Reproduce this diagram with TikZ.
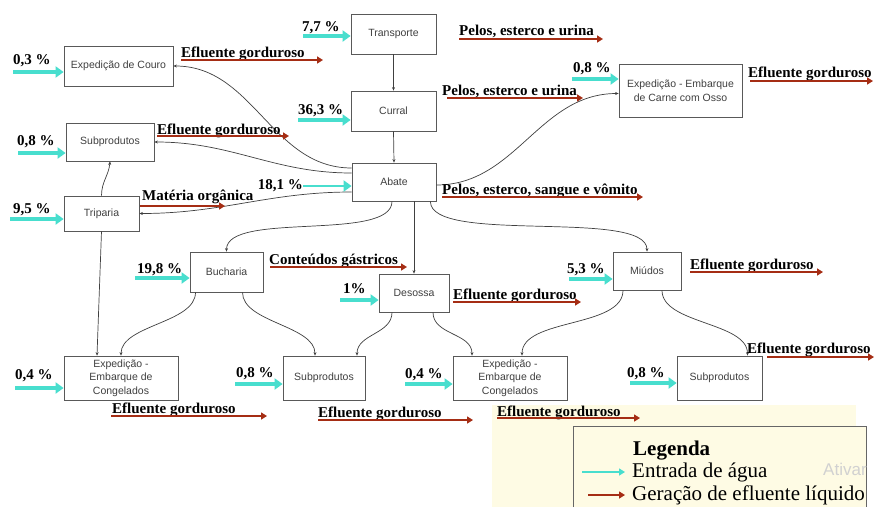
\documentclass[tikz,border=0pt]{standalone}
\usepackage{fontspec}
\setmainfont{Liberation Serif}
\setsansfont{Liberation Sans}
\usetikzlibrary{arrows.meta, positioning, calc}
\definecolor{aqua}{RGB}{72,222,206}
\definecolor{rust}{RGB}{165,45,20}
\definecolor{cream}{RGB}{254,251,228}
\tikzstyle{stage} = [rectangle, draw=black!65, line width=0.8pt, fill=white, text=black!75, font=\sffamily\fontsize{10.5}{13.5}\selectfont, align=center, inner sep=1pt]
\tikzstyle{water} = [line width=3.5pt, draw=aqua, -{Triangle[length=8pt,width=11pt]}]
\tikzstyle{effluent} = [line width=2pt, draw=rust, -{Triangle[length=6pt,width=7pt]}]
\tikzstyle{link} = [line width=0.7pt, draw=black!75, -{Stealth[length=3.5pt,width=3pt]}]
\begin{document}
\begin{tikzpicture}[x=1pt, y=-1pt,
        pct/.style={font=\bfseries\fontsize{15}{15}\selectfont, inner sep=0pt, anchor=base west},
        efl/.style={font=\bfseries\fontsize{15}{15}\selectfont, inner sep=0pt, anchor=base west},
        keytext/.style={font=\fontsize{21}{21}\selectfont, inner sep=0pt, anchor=base west}]

    \fill[white] (0,0) rectangle (874,507);
    \useasboundingbox (0,0) rectangle (874,507);
    \fill[cream] (492,405) rectangle (856,507);
    \fill[cream] (573,426) rectangle (866,507);
    \draw[black!60, line width=0.8pt] (573,507) |- (866,426) -- (866,507);

    \node[stage, minimum width=109pt, minimum height=40pt] (couro) at (118.5,66) {Expedição de Couro};
    \node[stage, minimum width=85pt, minimum height=40pt] (transporte) at (393.5,34) {Transporte};
    \node[stage, minimum width=85pt, minimum height=40pt] (curral) at (393.5,111) {Curral};
    \node[stage, minimum width=88pt, minimum height=38pt] (subL) at (110,142) {Subprodutos};
    \node[stage, minimum width=84pt, minimum height=38pt] (abate) at (394,182) {Abate};
    \node[stage, minimum width=75pt, minimum height=35pt] (triparia) at (101.5,213.5) {Triparia};
    \node[stage, minimum width=123pt, minimum height=53pt] (osso) at (680.5,90.5) {Expedição - Embarque\\de Carne com Osso};
    \node[stage, minimum width=73pt, minimum height=40pt] (bucharia) at (226.5,272) {Bucharia};
    \node[stage, minimum width=70pt, minimum height=38pt] (desossa) at (414,293) {Desossa};
    \node[stage, minimum width=68pt, minimum height=38pt] (miudos) at (647,271) {Miúdos};
    \node[stage, minimum width=114pt, minimum height=44pt] (congL) at (121,378) {Expedição -\\Embarque de\\Congelados};
    \node[stage, minimum width=82pt, minimum height=44pt] (subM) at (324,378) {Subprodutos};
    \node[stage, minimum width=114pt, minimum height=44pt] (congR) at (510,378) {Expedição -\\Embarque de\\Congelados};
    \node[stage, minimum width=85pt, minimum height=44pt] (subR) at (719.5,378) {Subprodutos};

    \draw[link] (transporte.south) -- (curral.north);
    \draw[link] (curral.south) -- (abate.north);
    \draw[link] ([yshift=14pt]abate.west) to[out=180, in=0] (couro.east);
    \draw[link] ([yshift=9pt]abate.west) to[out=180, in=0] (subL.east);
    \draw[link] ([yshift=-10pt]abate.west) to[out=180, in=0] (triparia.east);
    \draw[link] (triparia.north) to[out=90, in=-95] (subL.south);
    \draw[link] (triparia.south) -- ([xshift=-24pt]congL.north);
    \draw[link] ([yshift=-3pt]abate.east) to[out=0, in=180] ([yshift=-3pt]osso.west);
    \draw[link] ([xshift=-2pt]abate.south) to[out=-90, in=90, looseness=0.6] (bucharia.north);
    \draw[link] (desossa.north |- abate.south) -- (desossa.north);
    \draw[link] ([xshift=-6pt]abate.south east) to[out=-90, in=90, looseness=0.5] (miudos.north);
    \draw[link] ([xshift=-31pt]bucharia.south) to[out=-90, in=90, looseness=0.8] (congL.north);
    \draw[link] ([xshift=16pt]bucharia.south) to[out=-90, in=90, looseness=0.8] ([xshift=-9pt]subM.north);
    \draw[link] ([xshift=-22pt]desossa.south) to[out=-90, in=90] ([xshift=33pt]subM.north);
    \draw[link] ([xshift=19pt]desossa.south) to[out=-90, in=90] ([xshift=-38pt]congR.north);
    \draw[link] ([xshift=-24pt]miudos.south) to[out=-90, in=90, looseness=0.8] ([xshift=12pt]congR.north);
    \draw[link] ([xshift=15pt]miudos.south) to[out=-90, in=90, looseness=0.8] ([xshift=28pt]subR.north);

    \coordinate (inCouro) at (13,72);
    \coordinate (inSubL) at (18,153);
    \coordinate (inTriparia) at (10,219);
    \coordinate (inTransporte) at (303,36);
    \coordinate (inCurral) at (298,120);
    \coordinate (inAbate) at (303,186);
    \coordinate (inOsso) at (572,79);
    \coordinate (inBucharia) at (135,278);
    \coordinate (inDesossa) at (340,300);
    \coordinate (inMiudos) at (569,279);
    \coordinate (inCongL) at (15,388);
    \coordinate (inSubM) at (235,384);
    \coordinate (inCongR) at (405,384);
    \coordinate (inSubR) at (630,383);

    \node[pct] (pCouro) at (13,64) {0,3 \%};
    \node[pct] (pSubL) at (17,145) {0,8 \%};
    \node[pct] (pTriparia) at (13,213) {9,5 \%};
    \node[pct] (pTransporte) at (302,31) {7,7 \%};
    \node[pct] (pCurral) at (298,114) {36,3 \%};
    \node[pct, anchor=base east] (pAbate) at (303,189) {18,1 \%};
    \node[pct] (pOsso) at (573,72) {0,8 \%};
    \node[pct] (pBucharia) at (137,273) {19,8 \%};
    \node[pct] (pDesossa) at (343,293) {1\%};
    \node[pct] (pMiudos) at (567,273) {5,3 \%};
    \node[pct] (pCongL) at (15,379) {0,4 \%};
    \node[pct] (pSubM) at (236,377) {0,8 \%};
    \node[pct] (pCongR) at (405,378) {0,4 \%};
    \node[pct] (pSubR) at (627,377) {0,8 \%};

    \draw[water] (inCouro) -- (inCouro -| couro.west);
    \draw[water] (inSubL) -- (inSubL -| subL.west);
    \draw[water] (inTriparia) -- (inTriparia -| triparia.west);
    \draw[water] (inTransporte) -- (inTransporte -| transporte.west);
    \draw[water] (inCurral) -- (inCurral -| curral.west);
    \draw[water, line width=2.5pt] (inAbate) -- (inAbate -| abate.west);
    \draw[water] (inOsso) -- (inOsso -| osso.west);
    \draw[water] (inBucharia) -- (inBucharia -| bucharia.west);
    \draw[water] (inDesossa) -- (inDesossa -| desossa.west);
    \draw[water] (inMiudos) -- (inMiudos -| miudos.west);
    \draw[water] (inCongL) -- (inCongL -| congL.west);
    \draw[water] (inSubM) -- (inSubM -| subM.west);
    \draw[water] (inCongR) -- (inCongR -| congR.west);
    \draw[water] (inSubR) -- (inSubR -| subR.west);

    \coordinate (oCouro) at (181,60);       \coordinate (oCouroEnd) at (323,60);
    \coordinate (oSubL) at (157,136);       \coordinate (oSubLEnd) at (289,136);
    \coordinate (oTriparia) at (140,206);   \coordinate (oTripariaEnd) at (225,206);
    \coordinate (oTransporte) at (459,39);  \coordinate (oTransporteEnd) at (603,39);
    \coordinate (oCurral) at (447,98);      \coordinate (oCurralEnd) at (583,98);
    \coordinate (oOsso) at (750,81);        \coordinate (oOssoEnd) at (873,81);
    \coordinate (oAbate) at (442,197);      \coordinate (oAbateEnd) at (643,197);
    \coordinate (oBucharia) at (270,267);   \coordinate (oBuchariaEnd) at (407,267);
    \coordinate (oDesossa) at (453,302);    \coordinate (oDesossaEnd) at (581,302);
    \coordinate (oMiudos) at (690,272);     \coordinate (oMiudosEnd) at (823,272);
    \coordinate (oSubR) at (767,357);       \coordinate (oSubREnd) at (874,357);
    \coordinate (oCongL) at (111,416);      \coordinate (oCongLEnd) at (267,416);
    \coordinate (oSubM) at (318,420);       \coordinate (oSubMEnd) at (473,420);
    \coordinate (oCongR) at (497,418);      \coordinate (oCongREnd) at (640,418);

    \node[efl] (eCouro) at (181,57) {Efluente gorduroso};
    \node[efl] (eSubL) at (157,134) {Efluente gorduroso};
    \node[efl] (eTriparia) at (142,200) {Matéria orgânica};
    \node[efl] (eTransporte) at (459,35) {Pelos, esterco e urina};
    \node[efl] (eCurral) at (442,95) {Pelos, esterco e urina};
    \node[efl] (eOsso) at (748,77) {Efluente gorduroso};
    \node[efl] (eAbate) at (442,194) {Pelos, esterco, sangue e vômito};
    \node[efl] (eBucharia) at (269,264) {Conteúdos gástricos};
    \node[efl] (eDesossa) at (453,299) {Efluente gorduroso};
    \node[efl] (eMiudos) at (690,269) {Efluente gorduroso};
    \node[efl] (eSubR) at (747,353) {Efluente gorduroso};
    \node[efl] (eCongL) at (112,413) {Efluente gorduroso};
    \node[efl] (eSubM) at (318,417) {Efluente gorduroso};
    \node[efl] (eCongR) at (497,416) {Efluente gorduroso};

    \draw[effluent] (oCouro) -- (oCouroEnd);
    \draw[effluent] (oSubL) -- (oSubLEnd);
    \draw[effluent] (oTriparia) -- (oTripariaEnd);
    \draw[effluent] (oTransporte) -- (oTransporteEnd);
    \draw[effluent] (oCurral) -- (oCurralEnd);
    \draw[effluent] (oOsso) -- (oOssoEnd);
    \draw[effluent] (oAbate) -- (oAbateEnd);
    \draw[effluent] (oBucharia) -- (oBuchariaEnd);
    \draw[effluent] (oDesossa) -- (oDesossaEnd);
    \draw[effluent] (oMiudos) -- (oMiudosEnd);
    \draw[effluent] (oSubR) -- (oSubREnd);
    \draw[effluent] (oCongL) -- (oCongLEnd);
    \draw[effluent] (oSubM) -- (oSubMEnd);
    \draw[effluent] (oCongR) -- (oCongREnd);

    \node[keytext, font=\bfseries\fontsize{21}{21}\selectfont] (lgTitle) at (633,455) {Legenda};
    \node[keytext] (lgWater) at (632,477) {Entrada de água};
    \node[keytext] (lgEffluent) at (632,500) {Geração de efluente líquido};
    \node[font=\sffamily\fontsize{17}{17}\selectfont, text=black!18, anchor=base west, inner sep=0pt] (ativar) at (823,475) {Ativar};
    \coordinate (keyWater) at (582,472);
    \coordinate (keyEffluent) at (588,495);
    \draw[aqua, line width=2pt, -{Triangle[length=6pt,width=7pt]}] (keyWater) -- ([xshift=-7pt]keyWater -| lgWater.west);
    \draw[rust, line width=2.5pt, -{Triangle[length=6pt,width=7pt]}] (keyEffluent) -- ([xshift=-7pt]keyEffluent -| lgEffluent.west);
\end{tikzpicture}
\end{document}
